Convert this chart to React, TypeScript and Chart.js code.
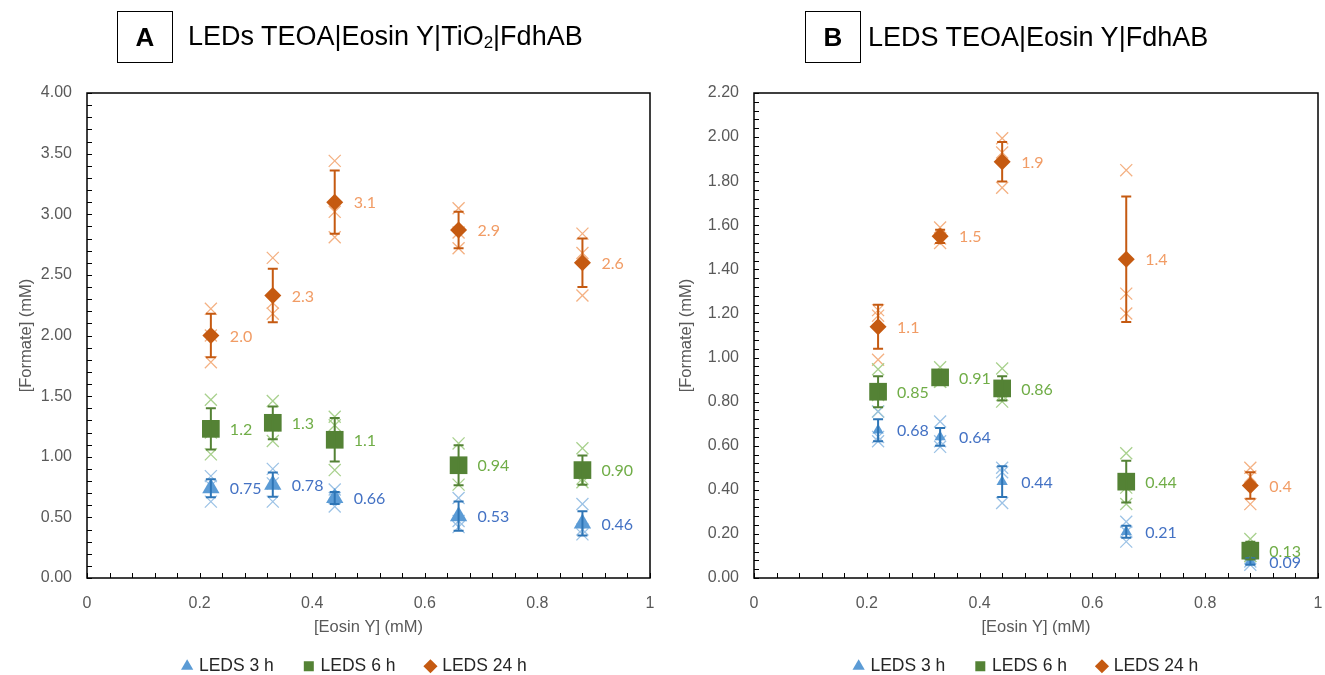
import React, { useEffect, useRef } from "react";
import { Chart, registerables } from "chart.js";

Chart.register(...registerables);

// ---------- DATA ----------
const eosinY = [0.22, 0.33, 0.44, 0.66, 0.88];
const seriesNames = ["LEDS 3 h", "LEDS 6 h", "LEDS 24 h"];
const xMajorTicks = [0, 0.2, 0.4, 0.6, 0.8, 1];

// Panel A: LEDs TEOA|Eosin Y|TiO2|FdhAB
const aYMajorTicks = [0, 0.5, 1, 1.5, 2, 2.5, 3, 3.5, 4];
const a3hMean = [0.74, 0.77, 0.66, 0.51, 0.45];
const a3hSd = [0.075, 0.1, 0.05, 0.12, 0.1];
const a3hLabels = ["0.75", "0.78", "0.66", "0.53", "0.46"];
const a3hReps = [[0.84, 0.63, 0.76], [0.9, 0.63, 0.78], [0.73, 0.59, 0.66], [0.66, 0.42, 0.47], [0.61, 0.36, 0.4]];
const a6hMean = [1.23, 1.28, 1.14, 0.93, 0.89];
const a6hSd = [0.17, 0.135, 0.18, 0.165, 0.12];
const a6hLabels = ["1.2", "1.3", "1.1", "0.94", "0.90"];
const a6hReps = [[1.47, 1.02, 1.2], [1.46, 1.13, 1.26], [1.33, 1.26, 0.89], [1.11, 0.77, 0.92], [1.07, 0.79, 0.82]];
const a24hMean = [2.0, 2.33, 3.1, 2.87, 2.6];
const a24hSd = [0.18, 0.22, 0.26, 0.15, 0.2];
const a24hLabels = ["2.0", "2.3", "3.1", "2.9", "2.6"];
const a24hReps = [[2.22, 1.78, 2.0], [2.64, 2.18, 2.27], [3.44, 3.02, 2.81], [3.05, 2.72, 2.85], [2.84, 2.68, 2.33]];

// Panel B: LEDS TEOA|Eosin Y|FdhAB
const bYMajorTicks = [0, 0.2, 0.4, 0.6, 0.8, 1, 1.2, 1.4, 1.6, 1.8, 2, 2.2];
const b3hMean = [0.67, 0.64, 0.437, 0.21, 0.075];
const b3hSd = [0.05, 0.04, 0.07, 0.027, 0.015];
const b3hLabels = ["0.68", "0.64", "0.44", "0.21", "0.09"];
const b3hReps = [[0.755, 0.62, 0.64], [0.71, 0.595, 0.62], [0.5, 0.34, 0.48], [0.255, 0.165, 0.21], [0.09, 0.06, 0.075]];
const b6hMean = [0.845, 0.91, 0.86, 0.437, 0.124];
const b6hSd = [0.07, 0.03, 0.055, 0.095, 0.04];
const b6hLabels = ["0.85", "0.91", "0.86", "0.44", "0.13"];
const b6hReps = [[0.947, 0.755, 0.83], [0.956, 0.89, 0.89], [0.95, 0.8, 0.83], [0.566, 0.336, 0.41], [0.177, 0.1, 0.1]];
const b24hMean = [1.14, 1.55, 1.888, 1.446, 0.42];
const b24hSd = [0.1, 0.03, 0.09, 0.285, 0.06];
const b24hLabels = ["1.1", "1.5", "1.9", "1.4", "0.4"];
const b24hReps = [[1.215, 1.19, 0.99], [1.59, 1.52, 1.54], [1.995, 1.93, 1.77], [1.85, 1.29, 1.2], [0.5, 0.46, 0.335]];

// ---------- STYLES ----------
const AXIS_FONT = "'Liberation Sans', Arial, sans-serif";
const LABEL_FONT = "Lato, 'Open Sans', sans-serif";
const styles = [
  { marker: "#5B9BD5", err: "#2E75B6", rep: "#9DC3E6", label: "#4472C4", pointStyle: "triangle" },
  { marker: "#548235", err: "#548235", rep: "#A9D18E", label: "#70AD47", pointStyle: "rect" },
  { marker: "#C55A11", err: "#C55A11", rep: "#F4B183", label: "#F19C65", pointStyle: "rectRot" },
];

type Series = { mean: number[]; sd: number[]; labels: string[]; reps: number[][] };

const isMajor = (v: number, majors: number[]) => majors.some((m) => Math.abs(m - v) < 1e-6);

const decorPlugin = {
  id: "decor",
  beforeDatasetsDraw(chart: any) {
    const { ctx, chartArea: a, scales } = chart;
    ctx.save();
    ctx.strokeStyle = "#000";
    ctx.lineWidth = 1;
    const tl = 5;
    for (const t of scales.x.ticks) {
      const px = Math.round(scales.x.getPixelForValue(t.value)) + 0.5;
      ctx.beginPath();
      ctx.moveTo(px, a.bottom);
      ctx.lineTo(px, a.bottom - tl);
      ctx.stroke();
    }
    for (const t of scales.y.ticks) {
      const py = Math.round(scales.y.getPixelForValue(t.value)) + 0.5;
      ctx.beginPath();
      ctx.moveTo(a.left, py);
      ctx.lineTo(a.left + tl, py);
      ctx.stroke();
    }
    ctx.lineWidth = 1.5;
    ctx.strokeRect(a.left, a.top, a.right - a.left, a.bottom - a.top);
    ctx.restore();
  },
  afterDatasetsDraw(chart: any) {
    const { ctx, scales } = chart;
    ctx.save();
    chart.data.datasets.forEach((ds: any, i: number) => {
      if (!ds.sdValues) return;
      const meta = chart.getDatasetMeta(i);
      meta.data.forEach((el: any, j: number) => {
        const x = el.x;
        const yTop = scales.y.getPixelForValue(ds.meanValues[j] + ds.sdValues[j]);
        const yBot = scales.y.getPixelForValue(ds.meanValues[j] - ds.sdValues[j]);
        ctx.strokeStyle = ds.errColor;
        ctx.lineWidth = 2;
        ctx.beginPath();
        ctx.moveTo(x, yTop);
        ctx.lineTo(x, yBot);
        ctx.moveTo(x - 5, yTop);
        ctx.lineTo(x + 5, yTop);
        ctx.moveTo(x - 5, yBot);
        ctx.lineTo(x + 5, yBot);
        ctx.stroke();
      });
    });
    chart.data.datasets.forEach((ds: any, i: number) => {
      if (!ds.valueLabels) return;
      const meta = chart.getDatasetMeta(i);
      ctx.fillStyle = ds.labelColor;
      ctx.font = `16px ${LABEL_FONT}`;
      ctx.textAlign = "left";
      ctx.textBaseline = "middle";
      meta.data.forEach((el: any, j: number) => {
        ctx.fillText(ds.valueLabels[j], el.x + 19, el.y + 1);
      });
    });
    ctx.restore();
  },
};

type PanelCfg = {
  left: number;
  width: number;
  padLeft: number;
  padRight: number;
  yWidth: number;
  yMax: number;
  yStep: number;
  yMajors: number[];
  yTitleShift: number;
  legendShift: number;
  triRadius: number;
  series: Series[];
  letter: string;
  title: React.ReactNode;
  boxLeft: number;
  titleLeft: number;
};

function buildConfig(cfg: PanelCfg): any {
  const repDatasets = cfg.series.map((s, k) => ({
    label: seriesNames[k] + " rep",
    data: s.reps.flatMap((r, j) => r.map((v) => ({ x: eosinY[j], y: v }))),
    pointStyle: "crossRot",
    pointRadius: 8.5,
    borderColor: styles[k].rep,
    backgroundColor: styles[k].rep,
    borderWidth: 1.3,
    isRep: true,
  }));
  const meanDatasets = cfg.series.map((s, k) => ({
    label: seriesNames[k],
    data: s.mean.map((v, j) => ({ x: eosinY[j], y: v })),
    pointStyle: styles[k].pointStyle,
    pointRadius: k === 0 ? cfg.triRadius : k === 1 ? 12.5 : 8.5,
    backgroundColor: styles[k].marker,
    borderColor: styles[k].marker,
    borderWidth: 0,
    meanValues: s.mean,
    sdValues: s.sd,
    errColor: styles[k].err,
    valueLabels: s.labels,
    labelColor: styles[k].label,
  }));
  const legendShiftPlugin = {
    id: "legendShift",
    afterLayout(chart: any) {
      if (chart.legend) {
        chart.legend.left += cfg.legendShift;
        chart.legend.right += cfg.legendShift;
      }
    },
  };
  return {
    type: "scatter",
    // mean markers first so they are drawn above the replicate crosses
    data: { datasets: [...meanDatasets, ...repDatasets] },
    plugins: [decorPlugin, legendShiftPlugin],
    options: {
      animation: false,
      responsive: false,
      maintainAspectRatio: false,
      events: [],
      layout: { autoPadding: false, padding: { left: cfg.padLeft, right: cfg.padRight, top: 93, bottom: 0 } },
      plugins: {
        tooltip: { enabled: false },
        legend: {
          position: "bottom",
          labels: {
            usePointStyle: true,
            boxWidth: 6,
            boxHeight: 10,
            padding: 32,
            color: "#262626",
            font: { size: 17.5, family: AXIS_FONT },
            filter: (item: any, data: any) => !data.datasets[item.datasetIndex].isRep,
          },
        },
      },
      scales: {
        x: {
          type: "linear",
          min: 0,
          max: 1,
          afterFit: (s: any) => {
            s.height = 47.5;
            s.paddingLeft = 0;
            s.paddingRight = 0;
          },
          grid: {
            display: true,
            color: "rgba(0,0,0,0)",
            drawOnChartArea: false,
            drawTicks: true,
            tickLength: 16,
          },
          border: { display: false },
          ticks: {
            stepSize: 0.04,
            autoSkip: false,
            maxRotation: 0,
            padding: 0,
            color: "#595959",
            font: { size: 16, family: AXIS_FONT },
            callback: (v: any) => (isMajor(Number(v), xMajorTicks) ? String(Math.round(Number(v) * 10) / 10) : ""),
          },
          title: {
            display: true,
            text: "[Eosin Y] (mM)",
            color: "#595959",
            font: { size: 16.5, family: AXIS_FONT },
            padding: { top: 0, bottom: -11.4 },
          },
        },
        y: {
          type: "linear",
          min: 0,
          max: cfg.yMax,
          afterFit: (s: any) => {
            s.width = cfg.yWidth;
          },
          grid: { display: false, drawTicks: false },
          border: { display: false },
          ticks: {
            stepSize: cfg.yStep,
            autoSkip: false,
            padding: 15,
            color: "#595959",
            font: { size: 16, family: AXIS_FONT },
            callback: (v: any) => (isMajor(Number(v), cfg.yMajors) ? Number(v).toFixed(2) : ""),
          },
          title: {
            display: true,
            text: "[Formate] (mM)",
            color: "#595959",
            font: { size: 16.5, family: AXIS_FONT },
            padding: { top: cfg.yTitleShift, bottom: 0 },
          },
        },
      },
    },
  };
}

function Panel({ cfg }: { cfg: PanelCfg }) {
  const ref = useRef<HTMLCanvasElement>(null);
  useEffect(() => {
    const chart = new Chart(ref.current as HTMLCanvasElement, buildConfig(cfg));
    return () => chart.destroy();
  }, []);
  return (
    <div style={{ position: "absolute", left: cfg.left, top: 0, width: cfg.width, height: 675, overflow: "hidden" }}>
      <canvas ref={ref} width={cfg.width} height={685} style={{ display: "block", width: cfg.width, height: 685 }} />
      <div
        style={{
          position: "absolute",
          left: cfg.boxLeft,
          top: 11,
          width: 56,
          height: 52,
          boxSizing: "border-box",
          border: "1.5px solid #000",
          display: "flex",
          alignItems: "center",
          justifyContent: "center",
          fontFamily: AXIS_FONT,
          fontWeight: "bold",
          fontSize: 26,
          color: "#000",
        }}
      >
        {cfg.letter}
      </div>
      <div
        style={{
          position: "absolute",
          left: cfg.titleLeft,
          top: 11,
          height: 52,
          display: "flex",
          alignItems: "center",
          fontFamily: AXIS_FONT,
          fontSize: 27,
          color: "#000",
          whiteSpace: "nowrap",
        }}
      >
        {cfg.title}
      </div>
    </div>
  );
}

const panelA: PanelCfg = {
  left: 0,
  width: 662,
  padLeft: 37,
  padRight: 12,
  yWidth: 50,
  yMax: 4,
  yStep: 0.1,
  yMajors: aYMajorTicks,
  yTitleShift: -20.8,
  legendShift: 12,
  triRadius: 10,
  series: [
    { mean: a3hMean, sd: a3hSd, labels: a3hLabels, reps: a3hReps },
    { mean: a6hMean, sd: a6hSd, labels: a6hLabels, reps: a6hReps },
    { mean: a24hMean, sd: a24hSd, labels: a24hLabels, reps: a24hReps },
  ],
  letter: "A",
  title: (
    <span>
      LEDs TEOA|Eosin Y|TiO<sub style={{ fontSize: 17, verticalAlign: "-3px" }}>2</sub>|FdhAB
    </span>
  ),
  boxLeft: 117,
  titleLeft: 188,
};

const panelB: PanelCfg = {
  left: 662,
  width: 663,
  padLeft: 36,
  padRight: 7,
  yWidth: 56,
  yMax: 2.2,
  yStep: 0.04,
  yMajors: bYMajorTicks,
  yTitleShift: -21.8,
  legendShift: 19,
  triRadius: 6.5,
  series: [
    { mean: b3hMean, sd: b3hSd, labels: b3hLabels, reps: b3hReps },
    { mean: b6hMean, sd: b6hSd, labels: b6hLabels, reps: b6hReps },
    { mean: b24hMean, sd: b24hSd, labels: b24hLabels, reps: b24hReps },
  ],
  letter: "B",
  title: <span>LEDS TEOA|Eosin Y|FdhAB</span>,
  boxLeft: 143,
  titleLeft: 206,
};

export default function App() {
  return (
    <div style={{ position: "absolute", left: 0, top: 0, width: 1325, height: 675, overflow: "hidden", background: "#fff" }}>
      <Panel cfg={panelA} />
      <Panel cfg={panelB} />
    </div>
  );
}
